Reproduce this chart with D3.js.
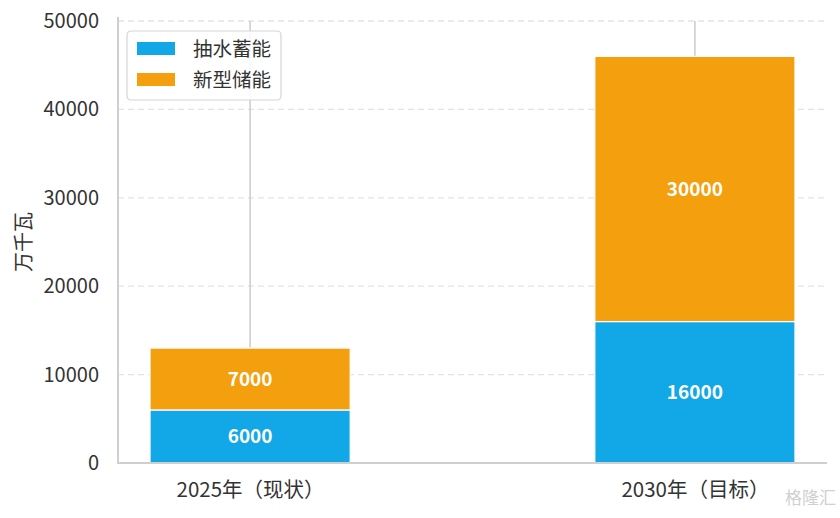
<!DOCTYPE html>
<html>
<head>
<meta charset="utf-8">
<script src="https://cdn.jsdelivr.net/npm/d3@7"></script>
<style>
  body { margin: 0; background: #fff; }
  text { font-family: "Noto Sans CJK SC", "Noto Sans", sans-serif; text-spacing-trim: space-all; }
</style>
</head>
<body>
<div id="chart"></div>
<script>
let categories = ["2025年（现状）", "2030年（目标）"];
let seriesNames = ["抽水蓄能", "新型储能"];
let pumped = [6000, 16000];
let newStorage = [7000, 30000];
let yTicks = [0, 10000, 20000, 30000, 40000, 50000];
let colors = ["#12a7e7", "#f39f0e"];

let width = 840, height = 518,
    plotLeft = 118, plotRight = 827, plotTop = 21, plotBottom = 463;

let svg = d3.select("#chart").append("svg")
    .attr("width", width)
    .attr("height", height);

let x = d3.scalePoint()
    .domain(categories)
    .range([plotLeft, plotRight])
    .padding(0.297);

let barW = x.step() * 0.45;

let y = d3.scaleLinear()
    .domain([0, 50000])
    .range([plotBottom, plotTop]);

// horizontal dashed grid
svg.append("g")
    .selectAll("line")
    .data(yTicks.slice(1))
    .enter().append("line")
    .attr("x1", plotLeft).attr("x2", plotRight)
    .attr("y1", d => y(d)).attr("y2", d => y(d))
    .attr("stroke", "#e3e3e3")
    .attr("stroke-width", 1.3)
    .attr("stroke-dasharray", "6,4");

// vertical grid at categories
svg.append("g")
    .selectAll("line")
    .data(categories)
    .enter().append("line")
    .attr("x1", d => x(d)).attr("x2", d => x(d))
    .attr("y1", plotTop).attr("y2", plotBottom)
    .attr("stroke", "#cccccc")
    .attr("stroke-width", 1.5);

let stackData = categories.map((c, i) => ({cat: c, s0: pumped[i], s1: newStorage[i]}));
let stack = d3.stack().keys(["s0", "s1"])(stackData);

let layers = svg.selectAll(".layer")
    .data(stack)
    .enter().append("g")
    .attr("class", "layer")
    .attr("fill", (d, i) => colors[i]);

layers.selectAll("rect")
    .data(d => d)
    .enter().append("rect")
    .attr("x", d => x(d.data.cat) - barW / 2)
    .attr("width", barW)
    .attr("y", d => y(d[1]))
    .attr("height", d => y(d[0]) - y(d[1]))
    .attr("stroke", "#fff")
    .attr("stroke-width", 1.2);

layers.selectAll("text")
    .data(d => d)
    .enter().append("text")
    .attr("x", d => x(d.data.cat))
    .attr("y", d => y((d[0] + d[1]) / 2))
    .attr("dy", "0.35em")
    .attr("text-anchor", "middle")
    .attr("fill", "#fff")
    .attr("font-weight", "bold")
    .attr("font-size", 19)
    .text(d => d[1] - d[0]);

// axes
let yAxis = d3.axisLeft(y).tickValues(yTicks).tickFormat(d3.format("d")).tickSize(0).tickPadding(19);
let gy = svg.append("g")
    .attr("transform", "translate(" + plotLeft + ",0)")
    .call(yAxis);
gy.select(".domain").remove();
gy.selectAll("text").attr("font-size", 20).attr("fill", "#333")
    .style("font-family", "'Noto Sans CJK SC', sans-serif");

let xAxis = d3.axisBottom(x).tickSize(0).tickPadding(19);
let gx = svg.append("g")
    .attr("transform", "translate(0," + plotBottom + ")")
    .call(xAxis);
gx.select(".domain").remove();
gx.selectAll("text").attr("font-size", 20.5).attr("fill", "#333")
    .style("font-family", "'Noto Sans CJK SC', sans-serif");

// spines
svg.append("line")
    .attr("x1", plotLeft).attr("x2", plotLeft)
    .attr("y1", 17).attr("y2", plotBottom + 1)
    .attr("stroke", "#cfcfcf").attr("stroke-width", 2);
svg.append("line")
    .attr("x1", plotLeft - 1).attr("x2", plotRight)
    .attr("y1", plotBottom).attr("y2", plotBottom)
    .attr("stroke", "#cfcfcf").attr("stroke-width", 2);

// y label
svg.append("text")
    .attr("transform", "translate(31," + ((plotTop + plotBottom) / 2) + ") rotate(-90)")
    .attr("text-anchor", "middle")
    .attr("font-size", 20)
    .attr("fill", "#333")
    .text("万千瓦");

// legend
let legend = svg.append("g").attr("transform", "translate(127,31)");
legend.append("rect")
    .attr("width", 154).attr("height", 69)
    .attr("rx", 4)
    .attr("fill", "#fff").attr("fill-opacity", 0.85)
    .attr("stroke", "#d5d5d5").attr("stroke-width", 1.2);
let li = legend.selectAll(".li")
    .data(seriesNames)
    .enter().append("g")
    .attr("transform", (d, i) => "translate(10," + (11 + i * 31) + ")");
li.append("rect")
    .attr("width", 38).attr("height", 13)
    .attr("fill", (d, i) => colors[i]);
li.append("text")
    .attr("x", 56).attr("y", 7)
    .attr("dy", "0.35em")
    .attr("font-size", 19.5)
    .attr("fill", "#333")
    .text(d => d);

// watermark
svg.append("text")
    .attr("x", 836).attr("y", 504)
    .attr("text-anchor", "end")
    .attr("font-size", 17)
    .attr("fill", "#d0d0d0")
    .text("格隆汇");
</script>
</body>
</html>
